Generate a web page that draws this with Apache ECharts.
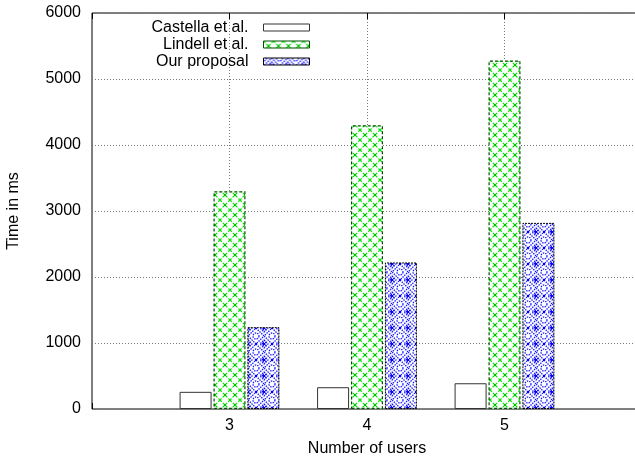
<!DOCTYPE html>
<html>
<head>
<meta charset="utf-8">
<script src="https://cdn.jsdelivr.net/npm/echarts@6/dist/echarts.min.js"></script>
<style>
  html, body { margin: 0; padding: 0; background: #fff; }
  #chart { width: 635px; height: 461px; }
</style>
</head>
<body>
<div id="chart"></div>
<script>
// number of users
const users = [3, 4, 5];
const seriesNames = ['Castella et al.', 'Lindell et al.', 'Our proposal'];
const castella = [260, 330, 390];
const lindell = [3300, 4300, 5280];
const ourProposal = [1240, 2220, 2820];
const yTicks = [0, 1000, 2000, 3000, 4000, 5000, 6000];

const FONT = 'Liberation Sans';
const FS = 16;

// green cross hatch
function greenPattern() {
  const s = 10;
  const c = document.createElement('canvas');
  c.width = s; c.height = s;
  const g = c.getContext('2d');
  g.fillStyle = '#fff';
  g.fillRect(0, 0, s, s);
  g.strokeStyle = '#00e000';
  g.lineWidth = 1.2;
  g.setLineDash([2.5, 1.5]);
  g.beginPath();
  g.moveTo(0, 0); g.lineTo(s, s);
  g.moveTo(s, 0); g.lineTo(0, s);
  g.stroke();
  g.fillStyle = '#00c000';
  g.fillRect(4, 4, 2, 2);
  return c;
}

// blue diamonds
function bluePattern() {
  const s = 16;
  const c = document.createElement('canvas');
  c.width = s; c.height = s;
  const g = c.getContext('2d');
  g.fillStyle = '#fff';
  g.fillRect(0, 0, s, s);
  g.strokeStyle = '#1a1aff';
  g.lineWidth = 1.3;
  g.setLineDash([1.5, 1]);
  g.beginPath();
  g.moveTo(8, 0); g.lineTo(16, 8); g.lineTo(8, 16); g.lineTo(0, 8); g.closePath();
  g.stroke();
  g.beginPath();
  g.moveTo(8, 4); g.lineTo(12, 8); g.lineTo(8, 12); g.lineTo(4, 8); g.closePath();
  g.stroke();
  g.strokeRect(6.5, 6.5, 3, 3);
  [[0, 0], [16, 0], [0, 16], [16, 16]].forEach(function (p) {
    g.beginPath();
    g.arc(p[0], p[1], 3, 0, Math.PI * 2);
    g.stroke();
  });
  g.fillStyle = '#0000ff';
  g.fillRect(7, 7, 2, 2);
  g.fillRect(0, 7, 1, 2);
  g.fillRect(15, 7, 1, 2);
  return c;
}

const chart = echarts.init(document.getElementById('chart'), null, { renderer: 'canvas' });

function pairs(vals) {
  return vals.map(function (v, i) { return [users[i], v]; });
}

const option = {
  backgroundColor: '#fff',
  animation: false,
  textStyle: { fontFamily: FONT, color: '#000' },
  grid: {
    left: 92, top: 13, bottom: 52, right: -7,
    outerBoundsMode: 'none',
    containLabel: false,
    show: true, borderColor: '#000', borderWidth: 1, backgroundColor: 'transparent'
  },
  legend: {
    orient: 'vertical',
    align: 'right',
    right: 325,
    top: 19,
    padding: 0,
    itemGap: 0,
    icon: 'rect',
    itemWidth: 46,
    itemHeight: 7,
    itemStyle: { borderWidth: 1 },
    textStyle: { fontFamily: FONT, fontSize: FS, color: '#000', lineHeight: 17, padding: [0, 10, 0, 0] },
    data: seriesNames
  },
  xAxis: [{
    type: 'value',
    min: 2, max: 6, interval: 1,
    name: 'Number of users',
    nameLocation: 'middle',
    nameGap: 32,
    nameTextStyle: { fontFamily: FONT, fontSize: FS, color: '#000' },
    axisLine: { show: false },
    axisTick: { show: true, inside: true, length: 6, lineStyle: { color: '#000' } },
    axisLabel: {
      fontFamily: FONT, fontSize: FS, color: '#000', margin: 9,
      formatter: function (v) { return users.indexOf(v) >= 0 ? String(v) : ''; }
    },
    splitLine: { show: true, lineStyle: { color: '#777', type: [1, 2], width: 1 } }
  }, {
    type: 'value',
    position: 'top',
    min: 2, max: 6, interval: 1,
    axisLine: { show: false },
    axisTick: { show: true, inside: true, length: 6, lineStyle: { color: '#000' } },
    axisLabel: { show: false },
    splitLine: { show: false }
  }],
  yAxis: {
    type: 'value',
    min: yTicks[0], max: yTicks[yTicks.length - 1], interval: 1000,
    name: 'Time in ms',
    nameLocation: 'middle',
    nameGap: 70,
    nameTextStyle: { fontFamily: FONT, fontSize: FS, color: '#000' },
    axisLine: { show: false },
    axisTick: { show: false },
    axisLabel: {
      fontFamily: FONT, fontSize: FS, color: '#000', margin: 11,
      formatter: function (v) { return String(v); }
    },
    splitLine: { show: true, lineStyle: { color: '#777', type: [1, 2], width: 1 } }
  },
  series: [
    {
      name: seriesNames[0],
      type: 'bar',
      barWidth: 32,
      barGap: '6%',
      itemStyle: { color: '#fff', borderColor: '#333', borderWidth: 1 },
      data: pairs(castella)
    },
    {
      name: seriesNames[1],
      type: 'bar',
      barWidth: 32,
      barGap: '6%',
      itemStyle: { color: { image: greenPattern(), repeat: 'repeat' }, borderColor: '#005000', borderWidth: 1.2, borderType: [3, 2] },
      data: pairs(lindell)
    },
    {
      name: seriesNames[2],
      type: 'bar',
      barWidth: 32,
      barGap: '6%',
      itemStyle: { color: { image: bluePattern(), repeat: 'repeat' }, borderColor: '#000', borderWidth: 1, borderType: [2, 1] },
      data: pairs(ourProposal)
    }
  ]
};

chart.setOption(option);
</script>
</body>
</html>
